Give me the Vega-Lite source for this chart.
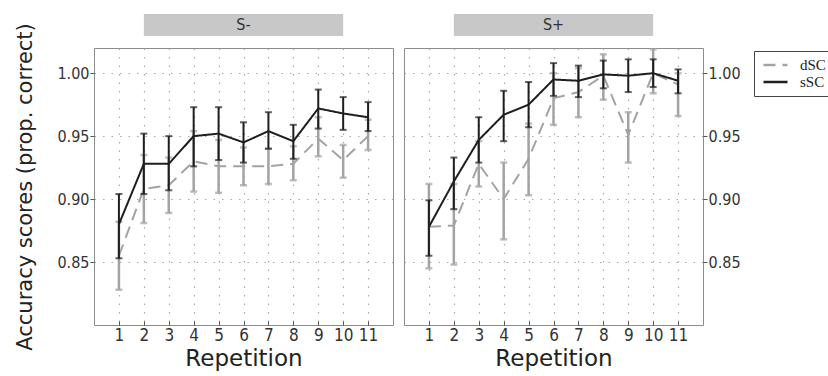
{
  "$schema": "https://vega.github.io/schema/vega-lite/v6.json",
  "padding": {"left": 14, "top": 14, "right": 0, "bottom": 0},
  "datasets": {
    "strips": [{"cond": "S-"}, {"cond": "S+"}],
    "scores": [
      {"cond": "S-", "group": "dSC", "rep": 1, "mean": 0.855, "lo": 0.828, "hi": 0.882},
      {"cond": "S-", "group": "dSC", "rep": 2, "mean": 0.908, "lo": 0.881, "hi": 0.935},
      {"cond": "S-", "group": "dSC", "rep": 3, "mean": 0.911, "lo": 0.889, "hi": 0.933},
      {"cond": "S-", "group": "dSC", "rep": 4, "mean": 0.930, "lo": 0.906, "hi": 0.954},
      {"cond": "S-", "group": "dSC", "rep": 5, "mean": 0.926, "lo": 0.905, "hi": 0.947},
      {"cond": "S-", "group": "dSC", "rep": 6, "mean": 0.926, "lo": 0.911, "hi": 0.941},
      {"cond": "S-", "group": "dSC", "rep": 7, "mean": 0.926, "lo": 0.912, "hi": 0.940},
      {"cond": "S-", "group": "dSC", "rep": 8, "mean": 0.928, "lo": 0.915, "hi": 0.942},
      {"cond": "S-", "group": "dSC", "rep": 9, "mean": 0.948, "lo": 0.934, "hi": 0.965},
      {"cond": "S-", "group": "dSC", "rep": 10, "mean": 0.931, "lo": 0.917, "hi": 0.943},
      {"cond": "S-", "group": "dSC", "rep": 11, "mean": 0.950, "lo": 0.939, "hi": 0.963},
      {"cond": "S-", "group": "sSC", "rep": 1, "mean": 0.880, "lo": 0.853, "hi": 0.904},
      {"cond": "S-", "group": "sSC", "rep": 2, "mean": 0.928, "lo": 0.904, "hi": 0.952},
      {"cond": "S-", "group": "sSC", "rep": 3, "mean": 0.928, "lo": 0.907, "hi": 0.950},
      {"cond": "S-", "group": "sSC", "rep": 4, "mean": 0.950, "lo": 0.926, "hi": 0.973},
      {"cond": "S-", "group": "sSC", "rep": 5, "mean": 0.952, "lo": 0.931, "hi": 0.973},
      {"cond": "S-", "group": "sSC", "rep": 6, "mean": 0.945, "lo": 0.929, "hi": 0.961},
      {"cond": "S-", "group": "sSC", "rep": 7, "mean": 0.954, "lo": 0.940, "hi": 0.969},
      {"cond": "S-", "group": "sSC", "rep": 8, "mean": 0.946, "lo": 0.932, "hi": 0.959},
      {"cond": "S-", "group": "sSC", "rep": 9, "mean": 0.972, "lo": 0.956, "hi": 0.987},
      {"cond": "S-", "group": "sSC", "rep": 10, "mean": 0.968, "lo": 0.955, "hi": 0.981},
      {"cond": "S-", "group": "sSC", "rep": 11, "mean": 0.965, "lo": 0.954, "hi": 0.977},
      {"cond": "S+", "group": "dSC", "rep": 1, "mean": 0.878, "lo": 0.845, "hi": 0.912},
      {"cond": "S+", "group": "dSC", "rep": 2, "mean": 0.879, "lo": 0.848, "hi": 0.912},
      {"cond": "S+", "group": "dSC", "rep": 3, "mean": 0.928, "lo": 0.910, "hi": 0.946},
      {"cond": "S+", "group": "dSC", "rep": 4, "mean": 0.900, "lo": 0.868, "hi": 0.929},
      {"cond": "S+", "group": "dSC", "rep": 5, "mean": 0.932, "lo": 0.903, "hi": 0.960},
      {"cond": "S+", "group": "dSC", "rep": 6, "mean": 0.980, "lo": 0.959, "hi": 1.000},
      {"cond": "S+", "group": "dSC", "rep": 7, "mean": 0.985, "lo": 0.965, "hi": 1.004},
      {"cond": "S+", "group": "dSC", "rep": 8, "mean": 0.998, "lo": 0.979, "hi": 1.015},
      {"cond": "S+", "group": "dSC", "rep": 9, "mean": 0.951, "lo": 0.929, "hi": 0.969},
      {"cond": "S+", "group": "dSC", "rep": 10, "mean": 1.000, "lo": 0.984, "hi": 1.019},
      {"cond": "S+", "group": "dSC", "rep": 11, "mean": 0.991, "lo": 0.966, "hi": 1.000},
      {"cond": "S+", "group": "sSC", "rep": 1, "mean": 0.878, "lo": 0.855, "hi": 0.899},
      {"cond": "S+", "group": "sSC", "rep": 2, "mean": 0.914, "lo": 0.892, "hi": 0.933},
      {"cond": "S+", "group": "sSC", "rep": 3, "mean": 0.947, "lo": 0.929, "hi": 0.965},
      {"cond": "S+", "group": "sSC", "rep": 4, "mean": 0.967, "lo": 0.946, "hi": 0.986},
      {"cond": "S+", "group": "sSC", "rep": 5, "mean": 0.975, "lo": 0.957, "hi": 0.993},
      {"cond": "S+", "group": "sSC", "rep": 6, "mean": 0.995, "lo": 0.982, "hi": 1.008},
      {"cond": "S+", "group": "sSC", "rep": 7, "mean": 0.994, "lo": 0.981, "hi": 1.006},
      {"cond": "S+", "group": "sSC", "rep": 8, "mean": 0.999, "lo": 0.988, "hi": 1.010},
      {"cond": "S+", "group": "sSC", "rep": 9, "mean": 0.998, "lo": 0.985, "hi": 1.011},
      {"cond": "S+", "group": "sSC", "rep": 10, "mean": 1.000, "lo": 0.989, "hi": 1.011},
      {"cond": "S+", "group": "sSC", "rep": 11, "mean": 0.994, "lo": 0.984, "hi": 1.003}
    ]
  },
  "hconcat": [
    {
      "vconcat": [
        {
          "width": 299, "height": 22,
          "view": {"stroke": null},
          "data": {"name": "strips"},
          "transform": [{"filter": "datum.cond === 'S-'"}],
          "layer": [
            {"mark": {"type": "rect", "color": "#c8c8c8"},
             "encoding": {"x": {"datum": 2, "type": "quantitative", "scale": {"domain": [0, 12]}, "axis": null}, "x2": {"datum": 10}}},
            {"mark": {"type": "text", "fontSize": 16, "color": "#333333", "font": "DejaVu Sans Condensed", "baseline": "middle"},
             "encoding": {"x": {"datum": 6, "type": "quantitative", "axis": null}, "text": {"field": "cond"}}}
          ]
        },
        {
          "width": 299, "height": 277,
          "data": {"name": "scores"},
          "transform": [{"filter": "datum.cond === 'S-'"}],
          "encoding": {
            "x": {"field": "rep", "type": "quantitative", "scale": {"domain": [0, 12]}, "title": "Repetition",
                  "axis": {"values": [1, 2, 3, 4, 5, 6, 7, 8, 9, 10, 11]}}
          },
          "layer": [
            {"transform": [{"filter": "datum.group === 'dSC'"}],
             "mark": {"type": "rule", "color": "#a3a3a3", "strokeWidth": 2.5},
             "encoding": {"y": {"field": "lo", "type": "quantitative", "scale": {"domain": [0.80, 1.02]}, "title": "Accuracy scores (prop. correct)",
                                "axis": {"values": [0.85, 0.9, 0.95, 1.0], "format": ".2f"}}, "y2": {"field": "hi"}}},
            {"transform": [{"filter": "datum.group === 'dSC'"}, {"fold": ["lo", "hi"], "as": ["end", "v"]}],
             "mark": {"type": "tick", "orient": "horizontal", "color": "#a3a3a3", "size": 7, "thickness": 2.5},
             "encoding": {"y": {"field": "v", "type": "quantitative", "title": "Accuracy scores (prop. correct)",
                                "axis": {"values": [0.85, 0.9, 0.95, 1.0], "format": ".2f"}}}},
            {"transform": [{"filter": "datum.group === 'dSC'"}],
             "mark": {"type": "line", "strokeWidth": 2},
             "encoding": {
               "y": {"field": "mean", "type": "quantitative", "title": "Accuracy scores (prop. correct)",
                     "axis": {"values": [0.85, 0.9, 0.95, 1.0], "format": ".2f"}},
               "color": {"field": "group", "type": "nominal", "scale": {"domain": ["dSC", "sSC"], "range": ["#a3a3a3", "#1e1e1e"]}, "title": null},
               "strokeDash": {"field": "group", "type": "nominal", "scale": {"domain": ["dSC", "sSC"], "range": [[12, 7], [1, 0]]}, "title": null}
             }},
            {"transform": [{"filter": "datum.group === 'sSC'"}],
             "mark": {"type": "rule", "color": "#1e1e1e", "strokeWidth": 2},
             "encoding": {"y": {"field": "lo", "type": "quantitative", "title": "Accuracy scores (prop. correct)",
                                "axis": {"values": [0.85, 0.9, 0.95, 1.0], "format": ".2f"}}, "y2": {"field": "hi"}}},
            {"transform": [{"filter": "datum.group === 'sSC'"}, {"fold": ["lo", "hi"], "as": ["end", "v"]}],
             "mark": {"type": "tick", "orient": "horizontal", "color": "#1e1e1e", "size": 7, "thickness": 2},
             "encoding": {"y": {"field": "v", "type": "quantitative", "title": "Accuracy scores (prop. correct)",
                                "axis": {"values": [0.85, 0.9, 0.95, 1.0], "format": ".2f"}}}},
            {"transform": [{"filter": "datum.group === 'sSC'"}],
             "mark": {"type": "line", "strokeWidth": 2},
             "encoding": {
               "y": {"field": "mean", "type": "quantitative", "title": "Accuracy scores (prop. correct)",
                     "axis": {"values": [0.85, 0.9, 0.95, 1.0], "format": ".2f"}},
               "color": {"field": "group", "type": "nominal", "title": null},
               "strokeDash": {"field": "group", "type": "nominal", "title": null}
             }}
          ]
        }
      ],
      "spacing": 12,
      "bounds": "flush"
    },
    {
      "vconcat": [
        {
          "width": 299, "height": 22,
          "view": {"stroke": null},
          "data": {"name": "strips"},
          "transform": [{"filter": "datum.cond === 'S+'"}],
          "layer": [
            {"mark": {"type": "rect", "color": "#c8c8c8"},
             "encoding": {"x": {"datum": 2, "type": "quantitative", "scale": {"domain": [0, 12]}, "axis": null}, "x2": {"datum": 10}}},
            {"mark": {"type": "text", "fontSize": 16, "color": "#333333", "font": "DejaVu Sans Condensed", "baseline": "middle"},
             "encoding": {"x": {"datum": 6, "type": "quantitative", "axis": null}, "text": {"field": "cond"}}}
          ]
        },
        {
          "width": 299, "height": 277,
          "data": {"name": "scores"},
          "transform": [{"filter": "datum.cond === 'S+'"}],
          "encoding": {
            "x": {"field": "rep", "type": "quantitative", "scale": {"domain": [0, 12]}, "title": "Repetition",
                  "axis": {"values": [1, 2, 3, 4, 5, 6, 7, 8, 9, 10, 11]}}
          },
          "layer": [
            {"transform": [{"filter": "datum.group === 'dSC'"}],
             "mark": {"type": "rule", "color": "#a3a3a3", "strokeWidth": 2.5},
             "encoding": {"y": {"field": "lo", "type": "quantitative", "scale": {"domain": [0.80, 1.02]}, "title": null,
                                "axis": {"orient": "right", "values": [0.85, 0.9, 0.95, 1.0], "format": ".2f"}}, "y2": {"field": "hi"}}},
            {"transform": [{"filter": "datum.group === 'dSC'"}, {"fold": ["lo", "hi"], "as": ["end", "v"]}],
             "mark": {"type": "tick", "orient": "horizontal", "color": "#a3a3a3", "size": 7, "thickness": 2.5},
             "encoding": {"y": {"field": "v", "type": "quantitative", "title": null,
                                "axis": {"orient": "right", "values": [0.85, 0.9, 0.95, 1.0], "format": ".2f"}}}},
            {"transform": [{"filter": "datum.group === 'dSC'"}],
             "mark": {"type": "line", "strokeWidth": 2},
             "encoding": {
               "y": {"field": "mean", "type": "quantitative", "title": null,
                     "axis": {"orient": "right", "values": [0.85, 0.9, 0.95, 1.0], "format": ".2f"}},
               "color": {"field": "group", "type": "nominal", "title": null},
               "strokeDash": {"field": "group", "type": "nominal", "title": null}
             }},
            {"transform": [{"filter": "datum.group === 'sSC'"}],
             "mark": {"type": "rule", "color": "#1e1e1e", "strokeWidth": 2},
             "encoding": {"y": {"field": "lo", "type": "quantitative", "title": null,
                                "axis": {"orient": "right", "values": [0.85, 0.9, 0.95, 1.0], "format": ".2f"}}, "y2": {"field": "hi"}}},
            {"transform": [{"filter": "datum.group === 'sSC'"}, {"fold": ["lo", "hi"], "as": ["end", "v"]}],
             "mark": {"type": "tick", "orient": "horizontal", "color": "#1e1e1e", "size": 7, "thickness": 2},
             "encoding": {"y": {"field": "v", "type": "quantitative", "title": null,
                                "axis": {"orient": "right", "values": [0.85, 0.9, 0.95, 1.0], "format": ".2f"}}}},
            {"transform": [{"filter": "datum.group === 'sSC'"}],
             "mark": {"type": "line", "strokeWidth": 2},
             "encoding": {
               "y": {"field": "mean", "type": "quantitative", "title": null,
                     "axis": {"orient": "right", "values": [0.85, 0.9, 0.95, 1.0], "format": ".2f"}},
               "color": {"field": "group", "type": "nominal", "title": null},
               "strokeDash": {"field": "group", "type": "nominal", "title": null}
             }}
          ]
        }
      ],
      "spacing": 12,
      "bounds": "flush"
    }
  ],
  "spacing": 9,
  "config": {
    "view": {"stroke": "#8c8c8c", "strokeWidth": 1},
    "font": "DejaVu Sans Condensed",
    "axis": {
      "labelFont": "DejaVu Sans Condensed",
      "labelColor": "#333333",
      "titleFont": "DejaVu Sans",
      "titleFontWeight": "normal",
      "titleColor": "#222222",
      "domain": false,
      "tickColor": "#555555",
      "tickSize": 4,
      "gridColor": "#a8a8a8",
      "gridDash": [1.5, 7],
      "gridWidth": 1.2
    },
    "axisX": {
      "labelFontSize": 17,
      "tickSize": -4,
      "labelPadding": 6,
      "titleFontSize": 23,
      "titlePadding": 4
    },
    "axisY": {
      "labelFontSize": 16,
      "labelPadding": 1,
      "titleFontSize": 21,
      "titlePadding": 21
    },
    "legend": {
      "orient": "none",
      "legendX": 660,
      "legendY": 37,
      "strokeColor": "#444444",
      "padding": 6,
      "symbolType": "stroke",
      "symbolSize": 576,
      "symbolOffset": 2,
      "labelOffset": 11,
      "clipHeight": 16,
      "symbolStrokeWidth": 2.5,
      "labelFont": "Liberation Serif",
      "labelFontSize": 15,
      "labelColor": "#222222",
      "rowPadding": 1
    }
  }
}
